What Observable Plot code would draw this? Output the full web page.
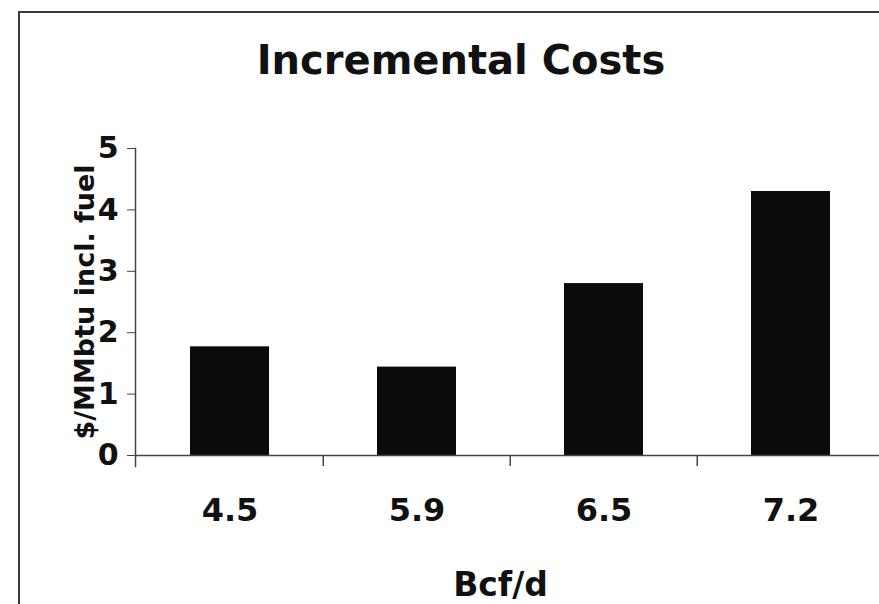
<!DOCTYPE html>
<html>
<head>
<meta charset="utf-8">
<script src="https://cdn.jsdelivr.net/npm/d3@7"></script>
<script src="https://cdn.jsdelivr.net/npm/@observablehq/plot@0.6"></script>
<style>
  html, body { margin: 0; padding: 0; background: #fff; }
  #wrap { position: relative; width: 879px; height: 604px; overflow: hidden; font-family: "DejaVu Sans", Verdana, sans-serif; }
  #border { position: absolute; left: 18px; top: 11px; right: -5px; bottom: -5px; border-left: 2px solid #3a3a3a; border-top: 2px solid #3a3a3a; pointer-events: none; }
  #title { height: 110px; box-sizing: border-box; padding-top: 41px; padding-left: 43px; font-size: 40px; line-height: 38px; font-weight: bold; text-align: center; color: #111; }
  #chart { width: 879px; overflow: hidden; }
  #chart svg { display: block; }
</style>
</head>
<body>
<div id="wrap">
  <div id="title">Incremental Costs</div>
  <div id="chart"></div>
  <div id="border"></div>
</div>
<script>
const categories = ["4.5", "5.9", "6.5", "7.2"];
const values = [1.77, 1.44, 2.80, 4.30];
const yTicks = [0, 1, 2, 3, 4, 5];
const xLabel = "Bcf/d";
const yLabel = "$/MMbtu incl. fuel";

const data = categories.map((c, i) => ({ cat: c, value: values[i] }));

const W = 879, H = 494, mL = 135, mR = -6, mT = 38, mB = 149;
const bw = (W - mL - mR) / categories.length;
const axisColor = "#444";

const chart = Plot.plot({
  width: W,
  height: H,
  marginLeft: mL,
  marginRight: mR,
  marginTop: mT,
  marginBottom: mB,
  style: { fontFamily: "'DejaVu Sans', Verdana, sans-serif", color: "#111", background: "transparent", overflow: "hidden" },
  x: { type: "band", domain: categories, paddingInner: 0.58, paddingOuter: 0.29, align: 0.5 },
  y: { domain: [0, 5] },
  marks: [
    Plot.rectY(data, { x: "cat", y: "value", fill: "#0b0b0b" }),
    Plot.ruleY([0], { stroke: axisColor, strokeWidth: 1.5 }),
    Plot.frame({ anchor: "left", stroke: axisColor, strokeWidth: 1.5, insetBottom: -11 }),
    Plot.ruleX(categories.slice(1), { y1: 0, y2: 0, insetBottom: -11, dx: -bw / 2, stroke: axisColor, strokeWidth: 1.5 }),
    Plot.axisY({ ticks: yTicks, tickSize: 8, tickPadding: 9, stroke: axisColor, fontSize: 30, fontWeight: "bold", fill: "#111", label: null, tickFormat: d3.format("d") }),
    Plot.axisX({ tickSize: 0, tickPadding: 43, fontSize: 32, fontWeight: "bold", fill: "#111", label: null }),
    Plot.text([yLabel], { frameAnchor: "left", textAnchor: "middle", rotate: -90, dx: -50, fontSize: 27, fontWeight: "bold", fill: "#111" }),
    Plot.text([xLabel], { frameAnchor: "bottom", lineAnchor: "bottom", dy: 140, dx: -10, fontSize: 33, fontWeight: "bold", fill: "#111" })
  ]
});
document.getElementById("chart").appendChild(chart);
</script>
</body>
</html>
